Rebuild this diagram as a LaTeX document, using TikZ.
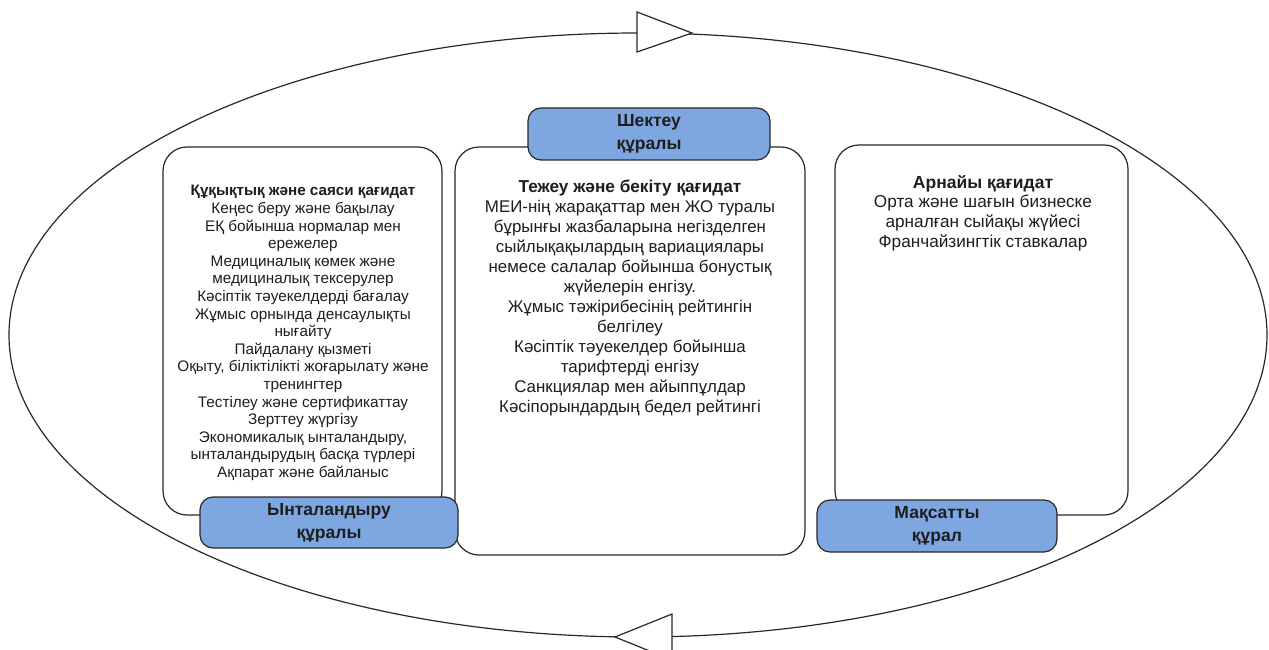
\documentclass[tikz,border=0pt]{standalone}
\usepackage{fontspec}
\setmainfont{Liberation Sans}
\definecolor{toolblue}{RGB}{126,166,224}
\definecolor{edge}{RGB}{40,40,40}
\definecolor{ink}{RGB}{30,30,30}
\tikzset{
  panel/.style={draw=edge, line width=1.2pt, fill=white, rounded corners=24pt},
  toollabel/.style={draw=edge, line width=1.2pt, fill=toolblue, rounded corners=13pt,
    align=center, inner sep=0pt, font=\fontsize{17.5}{23}\selectfont\bfseries, text=ink},
  panetext/.style={align=center, inner sep=0pt, text=ink},
  cyclehead/.style={draw=edge, line width=1.2pt, fill=white, line join=miter},
}
\newcommand{\headline}[2]{{\fontsize{#1}{0}\selectfont\bfseries #2}}
\begin{document}
\begin{tikzpicture}[x=1pt, y=-1pt]
\useasboundingbox (0,0) rectangle (1269,650);

% cycle loop around the three panels
\draw[edge, line width=1.2pt] (638,335) ellipse [x radius=629, y radius=302];
\draw[cyclehead] (637,12) -- (692,33) -- (637,52) -- cycle;
\draw[cyclehead] (672,614) -- (615,637) -- (672,660) -- cycle;

% panels
\draw[panel] (163,147) rectangle (442,515);
\draw[panel] (455,147) rectangle (805,555);
\draw[panel] (835,145) rectangle (1128,515);

% panel contents
\node[panetext, font=\fontsize{15.3}{17.6}\selectfont] (lefttext) at (303,333) {%
\headline{15.2}{Құқықтық және саяси қағидат}\\
Кеңес беру және бақылау\\
ЕҚ бойынша нормалар мен\\
ережелер\\
Медициналық көмек және\\
медициналық тексерулер\\
Кәсіптік тәуекелдерді бағалау\\
Жұмыс орнында денсаулықты\\
нығайту\\
Пайдалану қызметі\\
Оқыту, біліктілікті жоғарылату және\\
тренингтер\\
Тестілеу және сертификаттау\\
Зерттеу жүргізу\\
Экономикалық ынталандыру,\\
ынталандырудың басқа түрлері\\
Ақпарат және байланыс};

\node[panetext, font=\fontsize{16.9}{20}\selectfont] (midtext) at (630,298) {%
\headline{17.2}{Тежеу және бекіту қағидат}\\
МЕИ-нің жарақаттар мен ЖО туралы\\
бұрынғы жазбаларына негізделген\\
сыйлықақылардың вариациялары\\
немесе салалар бойынша бонустық\\
жүйелерін енгізу.\\
Жұмыс тәжірибесінің рейтингін\\
белгілеу\\
Кәсіптік тәуекелдер бойынша\\
тарифтерді енгізу\\
Санкциялар мен айыппұлдар\\
Кәсіпорындардың бедел рейтингі};

\node[panetext, font=\fontsize{17.2}{19.8}\selectfont] (righttext) at (983,213) {%
\headline{17.5}{Арнайы қағидат}\\
Орта және шағын бизнеске\\
арналған сыйақы жүйесі\\
Франчайзингтік ставкалар};

% tool labels
\node[toollabel, minimum width=258pt, minimum height=51pt] (incentive) at (329,522.5) {Ынталандыру\\құралы};
\node[toollabel, minimum width=242pt, minimum height=52pt] (restrict) at (649,134) {Шектеу\\құралы};
\node[toollabel, minimum width=240pt, minimum height=52pt] (target) at (937,526) {Мақсатты\\құрал};
\end{tikzpicture}
\end{document}
